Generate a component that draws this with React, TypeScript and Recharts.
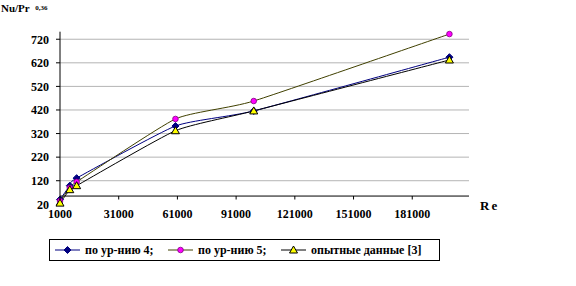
import React from 'react';
import {
  LineChart, Line, XAxis, YAxis, CartesianGrid, ReferenceLine,
} from 'recharts';

// Re values (x) shared by all three series
const reValues = [1000, 6000, 9500, 60000, 100000, 200000];
const eq4Values = [40, 99, 131, 352, 416, 644];
const eq5Values = [34, 90, 115, 382, 458, 742];
const expValues = [25, 82, 99, 332, 416, 632];

const xTicks = [1000, 31000, 61000, 91000, 121000, 151000, 181000];
const yTicks = [20, 120, 220, 320, 420, 520, 620, 720];
const gridValues = [120, 220, 320, 420, 520, 620, 720];

const data = reValues.map((re, i) => ({
  re,
  eq4: eq4Values[i],
  eq5: eq5Values[i],
  exp: expValues[i],
}));

const FONT = '"Liberation Serif", "Times New Roman", serif';

// smoothed line, a cardinal spline a bit tighter than plain Catmull-Rom
const TENSION = 0.5;
const smoothCurve = (ctx: any) => {
  let pts: [number, number][] = [];
  return {
    areaStart() {},
    areaEnd() {},
    lineStart() { pts = []; },
    point(x: number, y: number) { pts.push([+x, +y]); },
    lineEnd() {
      if (!pts.length) return;
      const k = (1 - TENSION) / 6;
      ctx.moveTo(pts[0][0], pts[0][1]);
      for (let i = 0; i < pts.length - 1; i++) {
        const p0 = pts[Math.max(i - 1, 0)];
        const p1 = pts[i];
        const p2 = pts[i + 1];
        const p3 = pts[Math.min(i + 2, pts.length - 1)];
        ctx.bezierCurveTo(
          p1[0] + (p2[0] - p0[0]) * k, p1[1] + (p2[1] - p0[1]) * k,
          p2[0] - (p3[0] - p1[0]) * k, p2[1] - (p3[1] - p1[1]) * k,
          p2[0], p2[1],
        );
      }
    },
  };
};

const Diamond = ({ cx, cy }: any) => (
  <polygon
    points={`${cx},${cy - 3.5} ${cx + 3.5},${cy} ${cx},${cy + 3.5} ${cx - 3.5},${cy}`}
    fill="#000080"
    stroke="#000080"
  />
);

const Circle = ({ cx, cy }: any) => (
  <circle cx={cx} cy={cy} r={2.8} fill="#ff00ff" stroke="#800080" strokeWidth={0.8} />
);

const Triangle = ({ cx, cy }: any) => (
  <polygon
    points={`${cx},${cy - 4} ${cx + 4},${cy + 3} ${cx - 4},${cy + 3}`}
    fill="#ffff00"
    stroke="#000"
    strokeWidth={1}
  />
);

const series = [
  { key: 'eq4', name: 'по ур-нию 4;', color: '#000080', dot: Diamond },
  { key: 'eq5', name: 'по ур-нию 5;', color: '#404000', dot: Circle },
  { key: 'exp', name: 'опытные данные [3]', color: '#000000', dot: Triangle },
];

const legendLeft = [5, 118, 231];

const XTick = ({ x, y, payload }: any) => (
  <g>
    <line x1={x} x2={x} y1={y - 8.3} y2={y - 4.8} stroke="#000" />
    <text
      x={x}
      y={y + 9}
      dy="0.35em"
      textAnchor="middle"
      fontFamily={FONT}
      fontWeight="bold"
      fontSize={12}
      fill="#000"
    >
      {payload.value}
    </text>
  </g>
);

export default function App() {
  return (
    <div style={{ position: 'absolute', left: 0, top: 0, width: 576, height: 286, background: '#fff' }}>
      <LineChart
        width={576}
        height={286}
        data={data}
        margin={{ top: 31.7, right: 107, bottom: 61.7, left: 0 }}
      >
        <CartesianGrid horizontal vertical={false} stroke="#b4b4b4" horizontalValues={gridValues} />
        <XAxis
          dataKey="re"
          type="number"
          domain={[1000, 210000]}
          ticks={xTicks}
          height={20}
          axisLine={false}
          tickLine={false}
          tickSize={0}
          tickMargin={0}
          tick={<XTick />}
          interval={0}
        />
        <YAxis
          type="number"
          domain={[20, 752]}
          ticks={yTicks}
          width={60}
          interval={0}
          axisLine={{ stroke: '#000' }}
          tickLine={{ stroke: '#000' }}
          tickSize={4}
          tickMargin={7}
          tick={{ fill: '#000', fontSize: 12, fontWeight: 'bold', fontFamily: FONT }}
        />
        <ReferenceLine y={55} stroke="#000" strokeWidth={1} />
        {series.map((s) => {
          const Dot = s.dot;
          return (
            <Line
              key={s.key}
              type={smoothCurve as any}
              dataKey={s.key}
              name={s.name}
              stroke={s.color}
              strokeWidth={1}
              dot={(p: any) => <Dot key={`${s.key}-${p.index}`} cx={p.cx} cy={p.cy} />}
              activeDot={false}
              isAnimationActive={false}
            />
          );
        })}
      </LineChart>

      <div
        style={{
          position: 'absolute', left: 1, top: 2, fontFamily: FONT, fontWeight: 'bold',
          fontSize: 11, color: '#000', whiteSpace: 'nowrap', lineHeight: '12px',
        }}
      >
        Nu/Pr <span style={{ fontSize: 7, verticalAlign: 'top', marginLeft: 3 }}>0,36</span>
      </div>

      <div
        style={{
          position: 'absolute', left: 480, top: 198, fontFamily: FONT, fontWeight: 'bold',
          fontSize: 13, letterSpacing: 2, color: '#000', lineHeight: '16px',
        }}
      >
        Re
      </div>

      <div
        style={{
          position: 'absolute', left: 49, top: 239, width: 391, height: 22,
          border: '1px solid #000', boxSizing: 'border-box', fontFamily: FONT,
          fontWeight: 'bold', fontSize: 12, color: '#000',
        }}
      >
        {series.map((s, i) => {
          const Dot = s.dot;
          return (
            <div
              key={s.key}
              style={{
                position: 'absolute', left: legendLeft[i], top: 0, height: 20,
                display: 'flex', alignItems: 'center', whiteSpace: 'nowrap',
              }}
            >
              <svg width={25} height={12} style={{ marginRight: 5 }}>
                <line x1={0} x2={25} y1={6} y2={6} stroke={s.color} strokeWidth={1} />
                <Dot cx={12.5} cy={6} />
              </svg>
              <span>{s.name}</span>
            </div>
          );
        })}
      </div>
    </div>
  );
}
